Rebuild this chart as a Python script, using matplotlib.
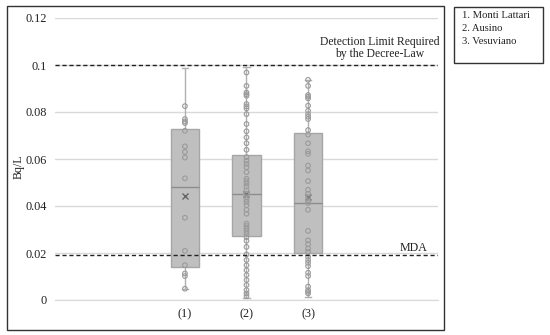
import matplotlib
matplotlib.use("Agg")
import matplotlib.pyplot as plt
from matplotlib.patches import Rectangle

plt.rcParams['font.family'] = ['Liberation Serif', 'DejaVu Serif']

# category labels and legend names
labels = ['(1)', '(2)', '(3)']
sites = ['1. Monti Lattari', '2. Ausino', '3. Vesuviano']

# box statistics (Bq/L)
q1 = [0.0141, 0.0271, 0.0201]
med = [0.0480, 0.0449, 0.0414]
q3 = [0.0728, 0.0615, 0.0711]
wlo = [0.0048, 0.0007, 0.0011]
whi = [0.0989, 0.0993, 0.0937]
mean = [0.0442, 0.0452, 0.0438]

# individual measurements
pts1 = [0.0825, 0.077, 0.076, 0.0753, 0.072, 0.0654, 0.063, 0.0606, 0.0518,
        0.035, 0.0209, 0.0148, 0.0113, 0.0102, 0.0048]
pts2 = [0.0968, 0.0911, 0.0883, 0.0876, 0.0869, 0.0834, 0.0824, 0.0815, 0.0791,
        0.0749, 0.0718, 0.0692, 0.0667, 0.0639, 0.0608, 0.0593, 0.0579, 0.0565,
        0.0544, 0.0516, 0.0506, 0.0495, 0.0483, 0.0466, 0.0452, 0.0438, 0.0427,
        0.0417, 0.0403, 0.0384, 0.0367, 0.0325, 0.0315, 0.0304, 0.0294, 0.0283,
        0.0268, 0.0252, 0.0226, 0.0194, 0.017, 0.0148, 0.0127, 0.0106, 0.0085,
        0.0064, 0.0042, 0.0028, 0.0017]
pts3 = [0.0937, 0.0911, 0.0872, 0.0865, 0.0858, 0.0827, 0.0805, 0.0791, 0.078,
        0.077, 0.0723, 0.0704, 0.0667, 0.0633, 0.0622, 0.0572, 0.0551, 0.0506,
        0.0469, 0.0452, 0.0438, 0.0424, 0.0413, 0.0384, 0.0294, 0.0254, 0.0237,
        0.0219, 0.0205, 0.0184, 0.017, 0.0158, 0.0144, 0.0116, 0.0102, 0.0057,
        0.0042, 0.0035, 0.0028]
points = [pts1, pts2, pts3]

limit_law = 0.1
mda = 0.0192

fig = plt.figure(figsize=(5.5, 3.35), dpi=100)
ax = fig.add_axes([55/550, 1 - 300/335, 383/550, 282/335])

stats = []
for i in range(3):
    stats.append(dict(med=med[i], q1=q1[i], q3=q3[i], whislo=wlo[i],
                      whishi=whi[i], mean=mean[i], fliers=[]))

pos = [1, 2, 3]
ax.bxp(stats, positions=pos, widths=0.46, patch_artist=True, showmeans=True,
       showcaps=True,
       boxprops=dict(facecolor='#bfbfbf', edgecolor='#a6a6a6', linewidth=1),
       medianprops=dict(color='#8c8c8c', linewidth=1),
       whiskerprops=dict(color='#b0b0b0', linewidth=1),
       capprops=dict(color='#b0b0b0', linewidth=1),
       meanprops=dict(marker='x', markeredgecolor='#666666', markersize=5),
       capwidths=0.1, zorder=2)

for i, p in enumerate(points):
    ax.scatter([pos[i]] * len(p), p, s=11, facecolors='none',
               edgecolors='#9a9a9a', linewidths=0.8, zorder=3)

ax.axhline(limit_law, color='#222222', linestyle=(0, (3, 2)), linewidth=1, zorder=4)
ax.axhline(mda, color='#222222', linestyle=(0, (3, 2)), linewidth=1, zorder=4)

ax.text(4.16, 0.1071, 'Detection Limit Required\nby the Decree-Law', ha='center',
        va='center', fontsize=8.4, linespacing=1.0, color='#222222')
ax.text(4.71, 0.0221, 'MDA', ha='center', va='center', fontsize=8.6,
        color='#222222')

ax.set_xlim(-1.11, 5.11)
ax.set_ylim(0, 0.12)
ax.set_yticks([0, 0.02, 0.04, 0.06, 0.08, 0.1, 0.12])
ax.set_yticklabels(['0', '0.02', '0.04', '0.06', '0.08', '0.1', '0.12'])
ax.set_xticks(pos)
ax.set_xticklabels(labels)
ax.grid(axis='y', color='#d9d9d9', linewidth=1, zorder=0)
ax.set_axisbelow(True)
for s in ['top', 'right', 'left']:
    ax.spines[s].set_visible(False)
ax.spines['bottom'].set_color('#d9d9d9')
ax.tick_params(length=0, labelsize=8.8, colors='#222222', pad=6)
ax.set_ylabel('Bq/L', fontsize=8.6, color='#222222', va='center')
ax.yaxis.set_label_coords(-0.095, 0.472)

# outer chart frame and legend box
fig.add_artist(Rectangle((7/550, 1 - 330/335), 437/550, 324/335, fill=False,
                         edgecolor='#333333', linewidth=1, transform=fig.transFigure))
fig.add_artist(Rectangle((454/550, 1 - 63/335), 89/550, 56/335, fill=False,
                         edgecolor='#333333', linewidth=1, transform=fig.transFigure))
for k, name in enumerate(sites):
    fig.text(462/550, 1 - (15 + 13.5 * k)/335, name, ha='left', va='center',
             fontsize=7.7, color='#222222')

fig.savefig('out.png', dpi=100)
